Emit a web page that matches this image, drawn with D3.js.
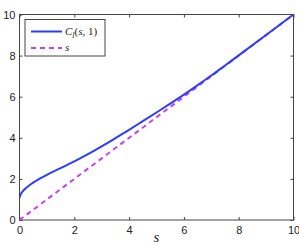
<!DOCTYPE html>
<html>
<head>
<meta charset="utf-8">
<script src="https://cdn.jsdelivr.net/npm/d3@7"></script>
<style>
  body { margin: 0; background: #fff; }
  svg { display: block; }
  .tick text { font-family: "Liberation Sans", Arial, sans-serif; font-size: 11px; fill: #222; }
</style>
</head>
<body>
<div id="chart"></div>
<script>
// values
const sValues = [0, 0.05, 0.1, 0.2, 0.35, 0.5, 0.75, 1, 1.5, 2, 2.5, 3, 3.5, 4, 4.5, 5, 5.5, 6, 6.5, 7, 7.5, 8, 9, 10];
const cValues = [1.08, 1.27, 1.37, 1.51, 1.68, 1.82, 2.02, 2.2, 2.52, 2.85, 3.2, 3.58, 3.98, 4.39, 4.81, 5.23, 5.66, 6.1, 6.56, 7.03, 7.52, 8.01, 9.0, 10.0];
const lineS = [0, 10];
const xTicks = [0, 2, 4, 6, 8, 10];
const yTicks = [0, 2, 4, 6, 8, 10];

const width = 299, height = 245;
const margin = { top: 14.5, right: 5.5, bottom: 25, left: 19.5 };
const w = width - margin.left - margin.right;
const h = height - margin.top - margin.bottom;

const svg = d3.select('#chart').append('svg')
  .attr('width', width)
  .attr('height', height);

const g = svg.append('g')
  .attr('transform', 'translate(' + margin.left + ',' + margin.top + ')');

const x = d3.scaleLinear().domain([0, 10]).range([0, w]);
const y = d3.scaleLinear().domain([0, 10]).range([h, 0]);

const axisColor = '#444';

// axes with inward ticks on all four sides
const styleAxis = (sel) => {
  sel.select('.domain').remove();
  sel.selectAll('.tick line').attr('stroke', axisColor);
};

g.append('g')
  .attr('transform', 'translate(0,' + h + ')')
  .call(d3.axisBottom(x).tickValues(xTicks).tickSize(-3).tickPadding(6))
  .call(styleAxis);
g.append('g')
  .call(d3.axisLeft(y).tickValues(yTicks).tickSize(-3).tickPadding(4))
  .call(styleAxis);
g.append('g')
  .call(d3.axisTop(x).tickValues(xTicks).tickSize(-3).tickFormat(''))
  .call(styleAxis);
g.append('g')
  .attr('transform', 'translate(' + w + ',0)')
  .call(d3.axisRight(y).tickValues(yTicks).tickSize(-3).tickFormat(''))
  .call(styleAxis);

g.selectAll('.tick text').each(function () {
  const t = d3.select(this);
  if (t.attr('y') && +t.attr('y') > 0) t.attr('dy', '0.71em');
  else t.attr('dy', '0.32em');
});

g.append('rect')
  .attr('width', w)
  .attr('height', h)
  .attr('fill', 'none')
  .attr('stroke', axisColor)
  .attr('stroke-width', 1);

// clip so the lines stay in the box
g.append('clipPath').attr('id', 'clip')
  .append('rect').attr('width', w).attr('height', h);

const plot = g.append('g').attr('clip-path', 'url(#clip)');

const line = d3.line()
  .x((d) => x(d[0]))
  .y((d) => y(d[1]))
  .curve(d3.curveMonotoneX);

plot.append('path')
  .datum(lineS.map((s) => [s, s]))
  .attr('d', d3.line().x((d) => x(d[0])).y((d) => y(d[1])))
  .attr('fill', 'none')
  .attr('stroke', '#c640f5')
  .attr('stroke-width', 2)
  .attr('stroke-dasharray', '5,4');

plot.append('path')
  .datum(sValues.map((s, i) => [s, cValues[i]]))
  .attr('d', line)
  .attr('fill', 'none')
  .attr('stroke', '#2b3dff')
  .attr('stroke-width', 2);

// x label
svg.append('text')
  .attr('x', margin.left + x(5))
  .attr('y', 242)
  .attr('text-anchor', 'middle')
  .attr('font-family', '"Liberation Serif", "DejaVu Serif", serif')
  .attr('font-style', 'italic')
  .attr('font-size', 15)
  .attr('fill', '#222')
  .text('s');

// legend
const legend = g.append('g').attr('transform', 'translate(5.5,5)');
legend.append('rect')
  .attr('width', 80)
  .attr('height', 36.5)
  .attr('fill', '#fff')
  .attr('stroke', axisColor)
  .attr('stroke-width', 1);

const items = [
  { color: '#2b3dff', dash: null, y: 12 },
  { color: '#c640f5', dash: '5,4', y: 28.5 }
];
legend.selectAll('.item')
  .data(items)
  .enter()
  .append('line')
  .attr('x1', 6)
  .attr('x2', 37)
  .attr('y1', (d) => d.y)
  .attr('y2', (d) => d.y)
  .attr('stroke', (d) => d.color)
  .attr('stroke-width', 2)
  .attr('stroke-dasharray', (d) => d.dash);

const lt = legend.append('text')
  .attr('x', 40)
  .attr('y', 12)
  .attr('dy', '0.35em')
  .attr('font-family', '"Liberation Serif", "DejaVu Serif", serif')
  .attr('font-size', 11)
  .attr('fill', '#222');
lt.append('tspan').attr('font-style', 'italic').text('C');
lt.append('tspan').attr('font-style', 'italic').attr('font-size', 8).attr('dy', '3').text('l');
lt.append('tspan').attr('dy', '-3').text('(');
lt.append('tspan').attr('font-style', 'italic').text('s');
lt.append('tspan').text(', 1)');

legend.append('text')
  .attr('x', 40)
  .attr('y', 28.5)
  .attr('dy', '0.3em')
  .attr('font-family', '"Liberation Serif", "DejaVu Serif", serif')
  .attr('font-style', 'italic')
  .attr('font-size', 11)
  .attr('fill', '#222')
  .text('s');
</script>
</body>
</html>
